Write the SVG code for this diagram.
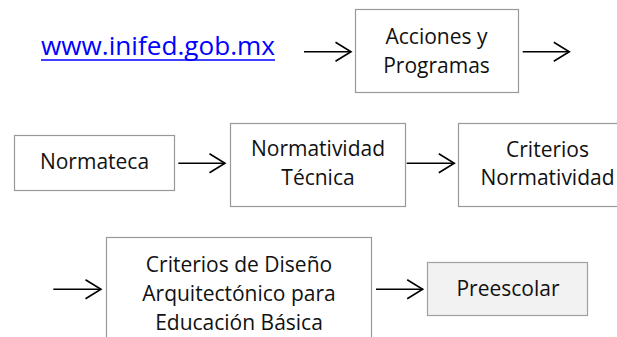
<svg xmlns="http://www.w3.org/2000/svg" width="617" height="337" viewBox="0 0 617 337">
  <defs>
    <marker id="arr" markerUnits="userSpaceOnUse" viewBox="0 0 18 21" refX="16.5" refY="10.5" markerWidth="18" markerHeight="21" orient="auto" overflow="visible">
      <path d="M1,1 L16.5,10.5 L1,20" fill="none" stroke="#000" stroke-width="1.6"/>
    </marker>
  </defs>
  <style>
    .box { fill: #ffffff; stroke: #999999; stroke-width: 1.2; }
    .grey { fill: #f2f2f2; stroke: #a0a0a0; stroke-width: 1.2; }
    .t { font-family: "Open Sans", "Liberation Sans", sans-serif; font-size: 21px; fill: #111111; text-anchor: middle; }
    .link { font-family: "Open Sans", "Liberation Sans", sans-serif; font-size: 26px; fill: #0000ff; }
    .conn line { stroke: #000; stroke-width: 1.6; marker-end: url(#arr); }
  </style>
  <rect width="617" height="337" fill="#ffffff"/>

  <g id="link">
    <text class="link" x="41" y="55" textLength="234" lengthAdjust="spacingAndGlyphs">www.inifed.gob.mx</text>
    <line x1="41" y1="60" x2="275" y2="60" stroke="#0000ff" stroke-width="1.6"/>
  </g>

  <g id="acciones">
    <rect class="box" x="355.5" y="9.5" width="163" height="83"/>
    <text class="t" x="436.5" y="44.3">Acciones y</text>
    <text class="t" x="436.5" y="72.7">Programas</text>
  </g>

  <g id="normateca">
    <rect class="box" x="14.5" y="135.5" width="160" height="55"/>
    <text class="t" x="94.5" y="169.3">Normateca</text>
  </g>

  <g id="normatividad-tecnica">
    <rect class="box" x="230.5" y="123.5" width="175" height="83"/>
    <text class="t" x="318" y="156">Normatividad</text>
    <text class="t" x="318" y="185">Técnica</text>
  </g>

  <g id="criterios-normatividad">
    <rect class="box" x="458.5" y="123.5" width="180" height="83"/>
    <text class="t" x="547.5" y="156.7">Criterios</text>
    <text class="t" x="547.5" y="185">Normatividad</text>
  </g>

  <g id="criterios-diseno">
    <rect class="box" x="106.5" y="237.5" width="265" height="120"/>
    <text class="t" x="239" y="271.7">Criterios de Diseño</text>
    <text class="t" x="239" y="301">Arquitectónico para</text>
    <text class="t" x="239" y="330">Educación Básica</text>
  </g>

  <g id="preescolar">
    <rect class="grey" x="427.5" y="262.5" width="160" height="53"/>
    <text class="t" x="508" y="296">Preescolar</text>
  </g>

  <g id="connectors" class="conn">
    <line x1="304" y1="51.7" x2="351" y2="51.7"/>
    <line x1="522.7" y1="51.7" x2="569.3" y2="51.7"/>
    <line x1="178.3" y1="163.3" x2="225" y2="163.3"/>
    <line x1="406.7" y1="163.3" x2="454.3" y2="163.3"/>
    <line x1="53.3" y1="289.3" x2="101" y2="289.3"/>
    <line x1="376" y1="289.3" x2="422.7" y2="289.3"/>
  </g>
</svg>
